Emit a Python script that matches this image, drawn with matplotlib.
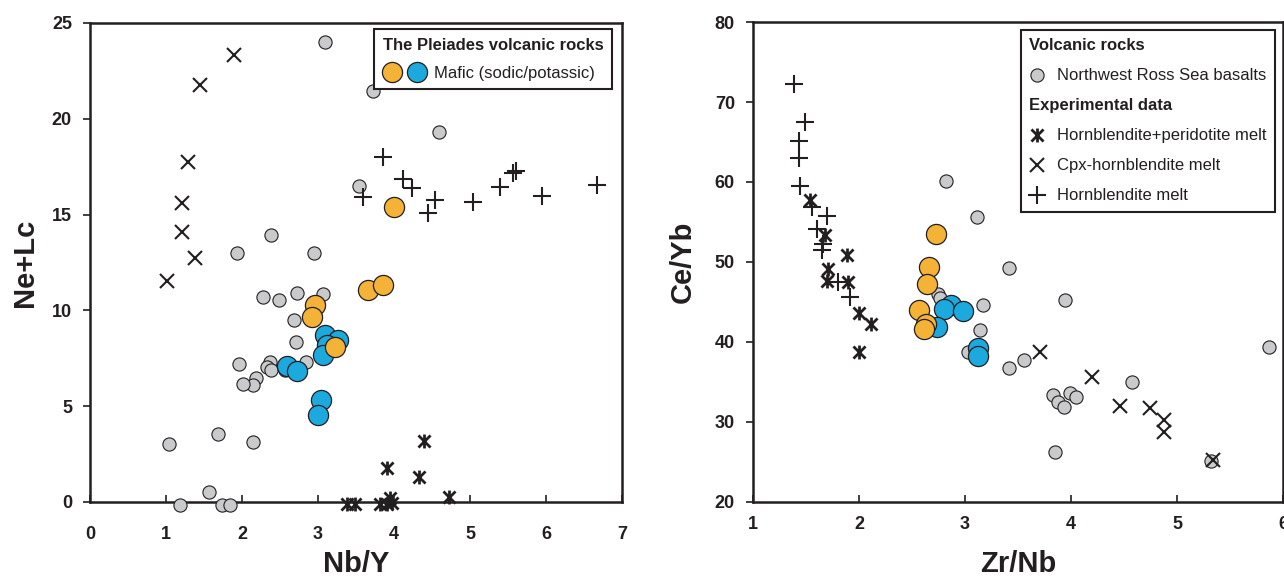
import numpy as np
import matplotlib
matplotlib.use('Agg')
import matplotlib.pyplot as plt
from matplotlib.path import Path
from matplotlib.lines import Line2D
from matplotlib.legend_handler import HandlerTuple

plt.rcParams['font.family'] = ['Liberation Sans', 'DejaVu Sans']
ink = '#231F20'

# ---- left panel: Nb/Y vs Ne+Lc ----
l_gray_x = [3.09, 3.72, 4.59, 3.54, 2.38, 1.93, 2.95, 2.28, 2.49, 2.72, 3.07, 2.68, 2.71,
            2.84, 2.37, 2.33, 2.38, 2.18, 2.15, 1.96, 2.01, 2.56, 1.04, 1.68, 2.15, 1.57,
            1.18, 1.74, 1.84]
l_gray_y = [24.0, 21.45, 19.3, 16.5, 13.95, 13.0, 13.0, 10.7, 10.55, 10.9, 10.85, 9.5, 8.35,
            7.3, 7.3, 7.05, 6.9, 6.45, 6.1, 7.2, 6.15, 6.9, 3.05, 3.55, 3.15, 0.52,
            -0.16, -0.16, -0.16]

l_blue_x = [3.09, 3.26, 3.12, 3.07, 2.59, 2.72, 3.04, 3.0]
l_blue_y = [8.7, 8.45, 8.2, 7.65, 7.1, 6.85, 5.3, 4.55]

l_orange_x = [4.0, 3.66, 3.86, 2.96, 2.92, 3.22]
l_orange_y = [15.4, 11.05, 11.35, 10.3, 9.65, 8.1]

l_cpx_x = [1.90, 1.45, 1.29, 1.21, 1.21, 1.38, 1.01]
l_cpx_y = [23.35, 21.75, 17.75, 15.6, 14.1, 12.75, 11.55]

l_hbl_x = [3.86, 4.12, 4.24, 3.59, 4.54, 4.45, 5.04, 5.40, 5.57, 5.60, 5.95, 6.67]
l_hbl_y = [18.0, 16.85, 16.4, 15.9, 15.75, 15.1, 15.65, 16.45, 17.15, 17.3, 15.95, 16.55]

l_perid_x = [4.40, 3.91, 4.33, 4.72, 3.38, 3.49, 3.82, 3.91, 3.97, 3.95]
l_perid_y = [3.2, 1.78, 1.3, 0.26, -0.1, -0.1, -0.1, -0.1, -0.05, 0.2]

# ---- right panel: Zr/Nb vs Ce/Yb ----
r_gray_x = [2.82, 3.11, 3.42, 3.94, 3.17, 3.14, 3.03, 3.42, 3.56, 3.83, 3.88, 3.93, 3.99,
            4.05, 4.58, 3.85, 5.32, 5.87, 2.75, 2.76]
r_gray_y = [60.1, 55.6, 49.3, 45.3, 44.6, 41.5, 38.75, 36.8, 37.8, 33.4, 32.5, 31.9, 33.6,
            33.1, 35.0, 26.3, 25.1, 39.4, 46.0, 45.5]

r_blue_x = [2.87, 2.80, 2.98, 2.74, 3.12, 3.12]
r_blue_y = [44.6, 44.1, 43.9, 41.9, 39.2, 38.3]

r_orange_x = [2.73, 2.66, 2.64, 2.57, 2.63, 2.61]
r_orange_y = [53.5, 49.4, 47.3, 44.0, 42.2, 41.6]

r_cpx_x = [3.71, 4.20, 4.46, 4.75, 4.88, 4.88, 5.34]
r_cpx_y = [38.75, 35.6, 32.0, 31.75, 30.3, 28.8, 25.3]

r_hbl_x = [1.39, 1.49, 1.43, 1.43, 1.44, 1.56, 1.70, 1.60, 1.66, 1.65, 1.80, 1.92]
r_hbl_y = [72.3, 67.5, 65.1, 63.0, 59.5, 56.9, 55.8, 54.1, 52.3, 51.5, 47.5, 45.6]

r_perid_x = [1.54, 1.68, 1.89, 1.71, 1.70, 1.90, 2.0, 2.11, 2.0]
r_perid_y = [57.8, 53.4, 50.9, 49.1, 47.6, 47.5, 43.6, 42.3, 38.7]

gray_c = '#C9CACC'
blue_c = '#1BA9DE'
orange_c = '#F4B236'

# asterisk = X with a vertical bar
aster = Path([(-1, -1), (1, 1), (-1, 1), (1, -1), (0, -1.15), (0, 1.15)],
             [Path.MOVETO, Path.LINETO, Path.MOVETO, Path.LINETO, Path.MOVETO, Path.LINETO])

gray_kw = dict(ls='none', marker='o', ms=9.5, mfc=gray_c, mec=ink, mew=0.8, clip_on=False)
big_kw = dict(ls='none', marker='o', ms=14.5, mec=ink, mew=0.9, clip_on=False)
cpx_kw = dict(ls='none', marker='x', ms=10.5, mec=ink, mew=1.5, clip_on=False)
hbl_kw = dict(ls='none', marker='+', ms=13, mec=ink, mew=1.5, clip_on=False)
per_kw = dict(ls='none', marker=aster, ms=10, mfc='none', mec=ink, mew=2.0, clip_on=False)

fig = plt.figure(figsize=(12.84, 5.79), dpi=100)
ax1 = fig.add_axes([0.0701, 0.1330, 0.4143, 0.8273])
ax2 = fig.add_axes([0.5864, 0.1330, 0.4128, 0.8290])

# left
ax1.plot(l_gray_x, l_gray_y, zorder=3, **gray_kw)
ax1.plot(l_cpx_x, l_cpx_y, zorder=3, **cpx_kw)
ax1.plot(l_hbl_x, l_hbl_y, zorder=3, **hbl_kw)
ax1.plot(l_perid_x, l_perid_y, zorder=3, **per_kw)
ax1.plot(l_blue_x, l_blue_y, mfc=blue_c, zorder=4, **big_kw)
ax1.plot(l_orange_x, l_orange_y, mfc=orange_c, zorder=4, **big_kw)

ax1.set_xlim(0, 7)
ax1.set_ylim(0, 25)
ax1.set_xticks(range(0, 8))
ax1.set_yticks(range(0, 26, 5))
ax1.set_xlabel('Nb/Y', fontsize=21, fontweight='bold', color=ink, labelpad=5)
ax1.set_ylabel('Ne+Lc', fontsize=21, fontweight='bold', color=ink, labelpad=9)

h_or = Line2D([], [], mfc=orange_c, **big_kw)
h_bl = Line2D([], [], mfc=blue_c, **big_kw)
leg1 = ax1.legend([(h_or, h_bl)], ['Mafic (sodic/potassic)'],
                  handler_map={tuple: HandlerTuple(ndivide=None, pad=0.35)},
                  title='The Pleiades volcanic rocks', alignment='left',
                  loc='upper right', bbox_to_anchor=(0.981, 0.987), borderaxespad=0,
                  fontsize=12, title_fontproperties={'weight': 'bold', 'size': 12},
                  fancybox=False, framealpha=1, edgecolor=ink, handlelength=2.6,
                  handletextpad=0.5, borderpad=0.5, labelspacing=0.8)
leg1.get_frame().set_linewidth(1.5)
leg1.set_zorder(6)
leg1.get_title().set_color(ink)
for t in leg1.get_texts():
    t.set_color(ink)

# right
ax2.plot(r_gray_x, r_gray_y, zorder=3, **gray_kw)
ax2.plot(r_cpx_x, r_cpx_y, zorder=3, **cpx_kw)
ax2.plot(r_hbl_x, r_hbl_y, zorder=3, **hbl_kw)
ax2.plot(r_perid_x, r_perid_y, zorder=3, **per_kw)
ax2.plot(r_blue_x, r_blue_y, mfc=blue_c, zorder=4, **big_kw)
ax2.plot(r_orange_x, r_orange_y, mfc=orange_c, zorder=4, **big_kw)

ax2.set_xlim(1, 6)
ax2.set_ylim(20, 80)
ax2.set_xticks(range(1, 7))
ax2.set_yticks(range(20, 81, 10))
ax2.set_xlabel('Zr/Nb', fontsize=21, fontweight='bold', color=ink, labelpad=12)
ax2.set_ylabel('Ce/Yb', fontsize=21, fontweight='bold', color=ink, labelpad=13)

blank = Line2D([], [], ls='none')
handles = [blank, Line2D([], [], **gray_kw), blank,
           Line2D([], [], **per_kw), Line2D([], [], **cpx_kw), Line2D([], [], **hbl_kw)]
labels = ['Volcanic rocks', 'Northwest Ross Sea basalts', 'Experimental data',
          'Hornblendite+peridotite melt', 'Cpx-hornblendite melt', 'Hornblendite melt']
leg2 = ax2.legend(handles, labels, loc='upper right', bbox_to_anchor=(0.985, 0.983),
                  borderaxespad=0, fontsize=12, fancybox=False, framealpha=1,
                  edgecolor=ink, handlelength=1.0, handletextpad=0.7,
                  labelspacing=0.9, borderpad=0.5)
leg2.get_frame().set_linewidth(1.5)
leg2.set_zorder(6)
for i, t in enumerate(leg2.get_texts()):
    t.set_color(ink)
    if i in (0, 2):
        t.set_fontweight('bold')
# headers start where the markers start: drop their empty handle boxes
rows = leg2._legend_handle_box.get_children()[0].get_children()
for i in (0, 2):
    rows[i]._children = rows[i]._children[1:]

for ax, xpad in ((ax1, 17), (ax2, 10)):
    for s in ax.spines.values():
        s.set_linewidth(1.8)
        s.set_color(ink)
        s.set_zorder(2.5)
    ax.tick_params(axis='x', direction='in', length=5, width=1.2, color=ink,
                   labelsize=13, pad=xpad, labelcolor=ink)
    ax.tick_params(axis='y', direction='out', length=5, width=1.2, color=ink,
                   labelsize=13, pad=8, labelcolor=ink)
    for lab in ax.get_xticklabels() + ax.get_yticklabels():
        lab.set_fontweight('bold')

fig.savefig('out.png', dpi=100)
